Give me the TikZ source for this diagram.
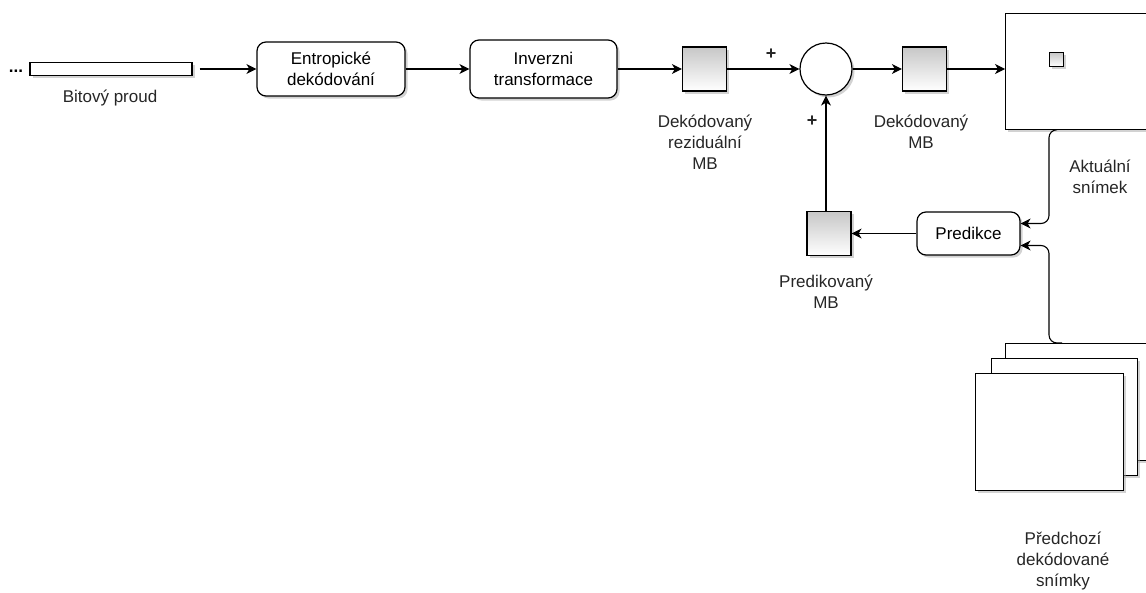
\documentclass[tikz,border=0pt]{standalone}
\usepackage{fontspec}
\setmainfont{Liberation Sans}
\usetikzlibrary{arrows.meta, shadows}

\tikzset{
	conn/.style={line width=1.1pt, -{Stealth[length=10pt, width=10pt, inset=3pt]}},
	shadowed/.style={drop shadow={shadow xshift=2.5pt, shadow yshift=-2.5pt, fill=black!35, opacity=0.5}},
	block/.style={draw, line width=1.2pt, rounded corners=9pt, fill=white, shadowed, align=center},
	mb/.style={draw, line width=1.2pt, shadowed, top color=black!22, bottom color=white, minimum size=44pt, inner sep=0pt},
	frm/.style={draw, line width=1.2pt, fill=white, shadowed, inner sep=0pt},
	lbl/.style={align=center, text=black!85},
	plus/.style={font=\fontsize{18}{18}\selectfont\bfseries, text=black!85},
}

\begin{document}
\begin{tikzpicture}[x=1pt, y=-1pt, font=\fontsize{17}{21}\selectfont]

	\useasboundingbox (0,0) rectangle (1146,592);
	\clip (0,0) rectangle (1146,592);

	% bitstream and decoding chain
	\node[anchor=base, font=\fontsize{17}{21}\selectfont\bfseries] (dots) at (16,72) {...};
	\node[frm, minimum width=162pt, minimum height=13pt] (bits) at (111,69) {};
	\node[lbl] (bitslbl) at (110,98) {Bitový proud};

	\node[block, minimum width=148pt, minimum height=54pt] (entropy) at (331,69) {Entropické\\dekódování};
	\node[block, minimum width=147pt, minimum height=58pt] (inverse) at (543.5,69) {Inverzni\\transformace};

	\node[mb] (resid) at (704.5,69) {};
	\node[lbl] (residlbl) at (705,142) {Dekódovaný\\reziduální\\MB};

	\node[draw, circle, line width=1.2pt, fill=white, shadowed, minimum size=52pt, inner sep=0pt] (sum) at (826,69) {};
	\node[plus] (plusa) at (771,54) {+};
	\node[plus] (plusb) at (812,121) {+};

	\node[mb] (decmb) at (924.5,69) {};
	\node[lbl] (decmblbl) at (921,132) {Dekódovaný\\MB};

	% current frame
	\node[frm, anchor=north west, minimum width=170pt, minimum height=116pt] (frame) at (1005,12.5) {};
	\node[mb, minimum size=14pt, line width=1pt] (curmb) at (1056,59.5) {};
	\node[lbl] (curlbl) at (1100,176.5) {Aktuální\\snímek};

	% prediction
	\node[block, minimum width=103pt, minimum height=43pt] (pred) at (968.5,233.5) {Predikce};
	\node[mb] (predmb) at (829,233.5) {};
	\node[lbl] (predmblbl) at (826,292) {Predikovaný\\MB};

	% previous frames
	\node[frm, anchor=north west, minimum width=200pt, minimum height=117pt] (prevc) at (1005,343) {};
	\node[frm, anchor=north west, minimum width=146pt, minimum height=117pt] (prevb) at (991,358) {};
	\node[frm, anchor=north west, minimum width=148pt, minimum height=117pt] (preva) at (975,373) {};
	\node[lbl] (prevlbl) at (1063,561) {Předchozí\\dekódované\\snímky};

	\draw[conn, shorten <=7pt] (bits) -- (entropy);
	\draw[conn] (entropy) -- (inverse);
	\draw[conn] (inverse) -- (resid);
	\draw[conn] (resid) -- (sum);
	\draw[conn] (sum) -- (decmb);
	\draw[conn] (decmb) -- (decmb -| frame.west);
	\draw[conn] (pred) -- (predmb);
	\draw[conn] (predmb.north -| sum) -- (sum);

	\draw[conn, rounded corners=8pt] ([xshift=52pt]frame.south west) -- ++(-8,0) |- ([yshift=10pt]pred.east);
	\draw[conn, rounded corners=8pt] ([xshift=57pt]prevc.north west) -- ++(-13,0) |- ([yshift=-12pt]pred.east);

\end{tikzpicture}
\end{document}
